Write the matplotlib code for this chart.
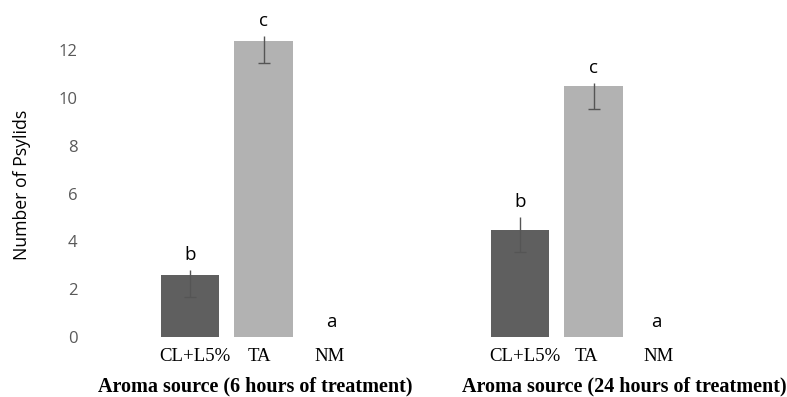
import numpy as np
import matplotlib
matplotlib.use("Agg")
import matplotlib.pyplot as plt

# data
categories = ["CL+L5%", "TA", "NM"]
means_6h = [2.6, 12.38, 0.0]
err_lo_6h = [0.93, 0.92, 0.0]
err_hi_6h = [0.2, 0.22, 0.0]
letters_6h = ["b", "c", "a"]

means_24h = [4.48, 10.5, 0.0]
err_lo_24h = [0.92, 0.96, 0.0]
err_hi_24h = [0.54, 0.13, 0.0]
letters_24h = ["b", "c", "a"]

group_titles = ["Aroma source (6 hours of treatment)", "Aroma source (24 hours of treatment)"]
yticks = [0, 2, 4, 6, 8, 10, 12]

bar_colors = ["#5f5f5f", "#b2b2b2", "#b2b2b2"]
err_color = "#555555"

fig = plt.figure(figsize=(7.87, 3.97), dpi=100)
ax = fig.add_axes([90 / 787, 60 / 397, 690 / 787, 14 * 23.9 / 397])

px_per_unit = 73.5
ax.set_xlim((90 - 190) / px_per_unit, (780 - 190) / px_per_unit)
ax.set_ylim(0, 14)

offsets = [0.0, 4.49]
label_shift = [[0.07, -0.05, -0.1], [0.07, -0.1, -0.12]]
letter_shift = [[0, 0, -0.08], [0, 0, -0.14]]
groups = [(means_6h, err_lo_6h, err_hi_6h, letters_6h),
          (means_24h, err_lo_24h, err_hi_24h, letters_24h)]

for g, (means, lo, hi, letters) in enumerate(groups):
    x = np.arange(len(categories)) + offsets[g]
    ax.bar(x, means, width=0.79, color=bar_colors, edgecolor="none")
    for i in range(len(categories)):
        if means[i] > 0:
            _, caps, _ = ax.errorbar(x[i], means[i], yerr=[[lo[i]], [hi[i]]], fmt="none",
                                     ecolor=err_color, elinewidth=1, capsize=4.5, capthick=1)
            caps[1].set_visible(False)
        ax.text(x[i] + letter_shift[g][i], means[i] + hi[i] + 0.63, letters[i],
                ha="center", va="center", fontsize=13.5, family="Open Sans", color="black")
        ax.text(x[i] + label_shift[g][i], -0.8, categories[i], ha="center", va="center",
                fontsize=13.5, family="Liberation Serif", color="black")

ax.text((255 - 190) / px_per_unit, -2.05, group_titles[0], ha="center", va="center",
        fontsize=14.5, family="Liberation Serif", fontweight="bold")
ax.text((624 - 190) / px_per_unit, -2.05, group_titles[1], ha="center", va="center",
        fontsize=14.5, family="Liberation Serif", fontweight="bold")

ax.set_yticks(yticks)
ax.set_yticklabels([str(t) for t in yticks], family="Open Sans", fontsize=12, color="#595959")
ax.tick_params(axis="y", length=0, pad=9)
ax.set_xticks([])
for s in ax.spines.values():
    s.set_visible(False)

fig.text(22 / 787, 1 - 185 / 397, "Number of Psylids", rotation=90, ha="center", va="center",
         fontsize=12.7, family="Open Sans")

fig.savefig("out.png", dpi=100)
